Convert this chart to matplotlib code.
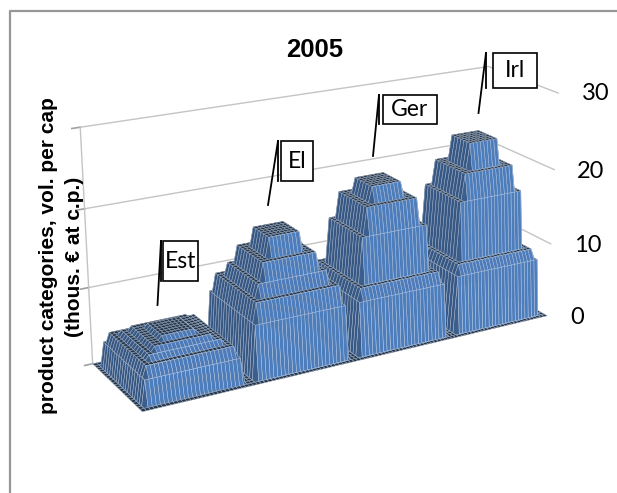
import numpy as np
import matplotlib
matplotlib.use('Agg')
import matplotlib.pyplot as plt
from matplotlib.colors import LightSource
from matplotlib.lines import Line2D
from matplotlib.patches import Rectangle

W, H = 617, 493

# height of each of the five tiers, thous. euro
est_levels = [3.2, 4.6, 5.2, 5.8, 6.3]
el_levels = [7.0, 9.5, 11.2, 13.5, 16.0]
ger_levels = [7.0, 8.5, 14.5, 18.0, 20.0]
irl_levels = [7.6, 8.9, 16.6, 20.0, 23.4]
countries = ['Est', 'El', 'Ger', 'Irl']
z_ticks = [0, 10, 20, 30]

CELLS_X = 28   # grid cells for one country along the width
CELLS_Y = 22   # and along the depth
# grid cell, counted from the block edge, where each tier starts
starts_x = [2, 3, 5, 7, 10]
starts_y = [2, 3, 5, 6, 8]


def tier_grid(levels_by_country):
    n = len(levels_by_country)
    z = np.zeros((CELLS_Y + 1, n * CELLS_X + 1))
    for k, levels in enumerate(levels_by_country):
        heights = [0.0] + list(levels)
        for j in range(CELLS_Y + 1):
            tier_y = sum(s <= min(j, CELLS_Y - j) for s in starts_y)
            for i in range(CELLS_X + 1):
                tier_x = sum(s <= min(i, CELLS_X - i) for s in starts_x)
                z[j, k * CELLS_X + i] = heights[min(tier_x, tier_y)]
    return z


def px(x, y):
    return x / W, 1 - y / H


z = tier_grid([est_levels, el_levels, ger_levels, irl_levels])
xs, ys = np.meshgrid(np.linspace(0, 1, z.shape[1]), np.linspace(0, 1, z.shape[0]))

fig = plt.figure(figsize=(W / 100, H / 100), dpi=100)
side = 523.5
ax = fig.add_axes([58.7 / W, -2.9 / H, side / W, side / H], projection='3d')
ax.set_xlim(0, 1)
ax.set_ylim(0, 1)
ax.set_zlim(0, 30)
ax.view_init(elev=19.907, azim=-119.442)
ax.set_proj_type('persp', focal_length=0.59)
ax.set_box_aspect((2.969, 0.784, 1.557))
ax.set_axis_off()
ax.computed_zorder = False

grid_col = '#c4c4c4'
for t in z_ticks:
    if t > 0:
        ax.plot([0, 1, 1], [1, 1, 0], [t, t, t], color=grid_col, lw=1.0, zorder=1)
    ax.plot([-0.018, 0], [1, 1], [t, t], color='#a0a0a0', lw=1.2, zorder=1)
ax.plot([0, 0], [1, 1], [0, 30], color=grid_col, lw=1.0, zorder=1)

# rows run front to back reversed so the face normals point outwards
surf = ax.plot_surface(xs, ys[::-1], z[::-1], rcount=z.shape[0], ccount=z.shape[1],
                       color='#5a90d8', linewidth=0.35, shade=True,
                       lightsource=LightSource(azdeg=-10, altdeg=50), zorder=2)
# edges follow the face shade, so the dark sides stay dark
faces = np.array(surf._facecolor3d)
edges = faces.copy()
edges[:, :3] = faces[:, :3] * 0.45 + 0.55
surf.set_edgecolor(edges)

# frame, only the top and left sides show
fig.add_artist(Line2D([px(10, 0)[0], px(10, 0)[0], 1], [0, px(0, 11)[1], px(0, 11)[1]],
                      transform=fig.transFigure, color='#969696', lw=1.6))

fig.text(*px(315, 50), '2005', family='Liberation Sans', weight='bold', fontsize=18.5,
         ha='center', va='center')
fig.text(*px(48, 256), 'product categories, vol. per cap', family='Liberation Sans',
         weight='bold', fontsize=15, rotation=90, ha='center', va='center')
fig.text(*px(75, 257), '(thous. € at c.p.)', family='Liberation Sans',
         weight='bold', fontsize=15, rotation=90, ha='center', va='center')

for lab, (x, y) in zip(z_ticks, [(577, 318), (588, 246), (591, 171), (596, 94)]):
    fig.text(*px(x, y), str(lab), family='Lato', fontsize=17, ha='center', va='center')

# callouts: box left, top, right, bottom, then leader start and top
boxes = [(163, 241, 198, 281, 157.5, 305),
         (281, 141, 313, 181, 268, 205),
         (383, 95, 437, 124, 373, 156),
         (493, 53, 537, 88, 478.5, 113)]
lead_x = [161, 278, 379, 486]
for name, b, lx in zip(countries, boxes, lead_x):
    x0, y0, x1, y1, sx, sy = b
    fx0, fy1 = px(x0, y1)
    fx1, fy0 = px(x1, y0)
    fig.add_artist(Rectangle((fx0, fy1), fx1 - fx0, fy0 - fy1, transform=fig.transFigure,
                             fc='white', ec='black', lw=1.2))
    fig.add_artist(Line2D([sx / W, lx / W], [px(0, sy)[1], px(0, y0)[1]],
                          transform=fig.transFigure, color='black', lw=1.3))
    fig.add_artist(Line2D([lx / W, lx / W], [px(0, y0)[1], px(0, y1)[1]],
                          transform=fig.transFigure, color='black', lw=1.3))
    fig.text((x0 + x1) / 2 / W, px(0, (y0 + y1) / 2)[1], name, family='Lato', fontsize=16.5,
             ha='center', va='center')

fig.savefig('out.png', dpi=100)
